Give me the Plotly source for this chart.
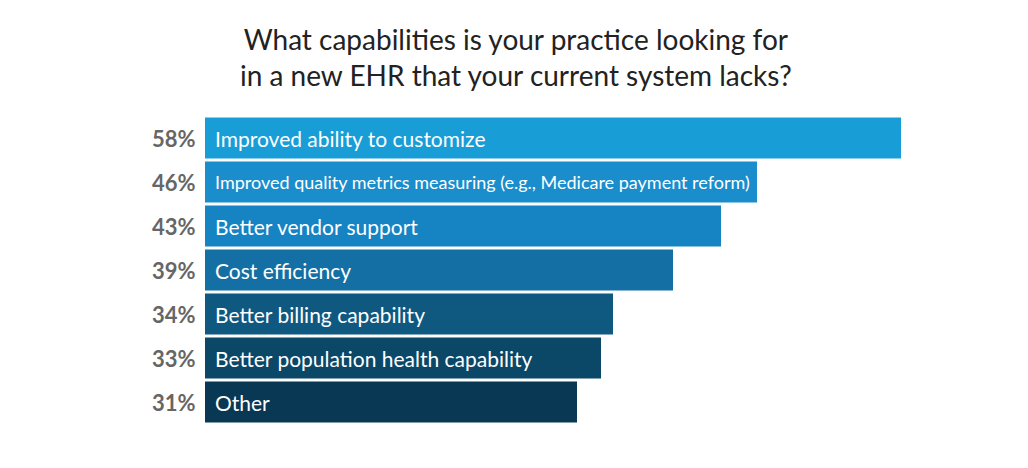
import plotly.graph_objects as go

# ── Data ──────────────────────────────────────────────────────────────────────
CAPABILITIES = [
    "Improved ability to customize",
    "Improved quality metrics measuring (e.g., Medicare payment reform)",
    "Better vendor support",
    "Cost efficiency",
    "Better billing capability",
    "Better population health capability",
    "Other",
]
SHARE_PCT = [58, 46, 43, 39, 34, 33, 31]
BAR_COLORS = ["#189dd7", "#1a8dcc", "#1683c3", "#1470a4", "#0f5981", "#0b4767", "#093855"]

TITLE = "What capabilities is your practice looking for<br>in a new EHR that your current system lacks?"
FONT = "Lato, 'Open Sans', sans-serif"

fig = go.Figure()

fig.add_trace(
    go.Bar(
        x=SHARE_PCT,
        y=CAPABILITIES,
        orientation="h",
        marker=dict(color=BAR_COLORS, line=dict(width=0)),
        hovertemplate="%{y}: %{x}%<extra></extra>",
        showlegend=False,
    )
)

# labels inside bars + percentages to the left
for cap, pct in zip(CAPABILITIES, SHARE_PCT):
    size = 18 if len(cap) > 40 else 21
    fig.add_annotation(
        x=0, y=cap, xref="x", yref="y",
        text=cap, showarrow=False,
        xanchor="left", xshift=8,
        font=dict(family=FONT, size=size, color="#ffffff"),
    )
    fig.add_annotation(
        x=0, y=cap, xref="x", yref="y",
        text=f"<b>{pct}%</b>", showarrow=False,
        xanchor="right", xshift=-7,
        font=dict(family=FONT, size=22, color="#666666"),
    )

# ── Layout ────────────────────────────────────────────────────────────────────
# the page body adds an 8px margin, so margins are 8px smaller than measured
fig.update_layout(
    title=dict(
        text=TITLE,
        x=0.494, xanchor="center",
        y=0.911, yanchor="middle",
        font=dict(family=FONT, size=28, color="#222222"),
    ),
    width=1028, height=468,
    paper_bgcolor="#ffffff",
    plot_bgcolor="#ffffff",
    bargap=0.07,
    margin=dict(t=108, b=52, l=197, r=111),
    font=dict(family=FONT),
)
fig.update_xaxes(range=[0, 60], visible=False, fixedrange=True)
fig.update_yaxes(autorange="reversed", showticklabels=False, showgrid=False,
                 zeroline=False, fixedrange=True)

fig.write_html("out.html")
